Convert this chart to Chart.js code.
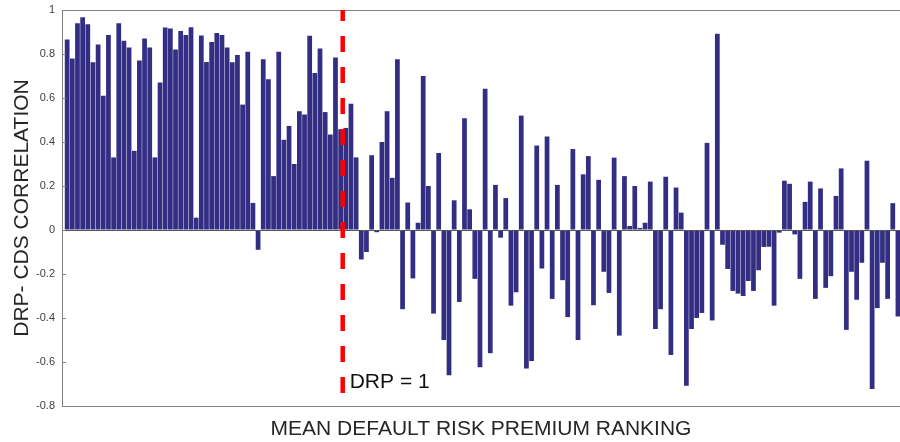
<!DOCTYPE html>
<html>
<head>
<meta charset="utf-8">
<script src="https://cdn.jsdelivr.net/npm/chart.js@4/dist/chart.umd.min.js"></script>
<style>
    html, body { margin: 0; padding: 0; background: #fff; }
    #chartCorr { display: block; }
</style>
</head>
<body>
<canvas id="chartCorr" width="900" height="442"></canvas>
<script>
// DRP-CDS correlation per firm, sorted by mean default risk premium ranking (1..162)
const correlations = [
    0.866, 0.78, 0.94, 0.967, 0.935, 0.763, 0.843, 0.61, 0.886, 0.33,
    0.94, 0.86, 0.83, 0.36, 0.77, 0.87, 0.83, 0.33, 0.67, 0.92,
    0.916, 0.82, 0.904, 0.886, 0.922, 0.056, 0.884, 0.764, 0.854, 0.896,
    0.886, 0.83, 0.763, 0.795, 0.57, 0.81, 0.123, -0.09, 0.776, 0.685,
    0.245, 0.81, 0.41, 0.473, 0.30, 0.54, 0.525, 0.883, 0.714, 0.825,
    0.536, 0.434, 0.784, 0.458, 0.464, 0.574, 0.33, -0.134, -0.10, 0.34,
    -0.01, 0.40, 0.54, 0.237, 0.776, -0.36, 0.125, -0.22, 0.033, 0.70,
    0.20, -0.38, 0.35, -0.50, -0.66, 0.135, -0.327, 0.508, 0.094, -0.222,
    -0.624, 0.642, -0.56, 0.205, -0.035, 0.145, -0.344, -0.283, 0.52, -0.629,
    -0.595, 0.384, -0.175, 0.425, -0.313, 0.205, -0.228, -0.396, 0.368, -0.50,
    0.253, 0.336, -0.342, 0.228, -0.19, -0.286, 0.329, -0.48, 0.245, 0.018,
    0.20, 0.009, 0.033, 0.22, -0.45, -0.36, 0.242, -0.568, 0.193, 0.079,
    -0.708, -0.45, -0.40, -0.377, 0.396, -0.411, 0.892, -0.067, -0.177, -0.277,
    -0.289, -0.30, -0.232, -0.277, -0.183, -0.077, -0.076, -0.344, -0.012, 0.224,
    0.21, -0.02, -0.222, 0.128, 0.22, -0.313, 0.189, -0.263, -0.21, 0.155,
    0.28, -0.454, -0.19, -0.317, -0.149, 0.315, -0.723, -0.355, -0.149, -0.313,
    0.122, -0.393
];
const ranks = correlations.map((v, i) => i + 1);
const yTicks = [1, 0.8, 0.6, 0.4, 0.2, 0, -0.2, -0.4, -0.6, -0.8];

// where the mean DRP crosses 1, and where its label sits
const drpRank = 54.4;
const drpLabel = 'DRP = 1';
const drpLabelValue = -0.69;

const fontFamily = '"Liberation Sans", Arial, Helvetica, sans-serif';

const framePlugin = {
    id: 'frame',
    afterDatasetsDraw(chart) {
        const {ctx, chartArea: a, scales: {x, y}} = chart;
        ctx.save();

        // zero baseline
        const y0 = Math.round(y.getPixelForValue(0)) + 0.5;
        ctx.strokeStyle = '#555';
        ctx.lineWidth = 1;
        ctx.beginPath();
        ctx.moveTo(a.left, y0);
        ctx.lineTo(a.right, y0);
        ctx.stroke();

        // box (top, left, bottom) and inward ticks
        ctx.strokeStyle = '#808080';
        ctx.beginPath();
        ctx.moveTo(a.right, a.top + 0.5);
        ctx.lineTo(a.left + 0.5, a.top + 0.5);
        ctx.lineTo(a.left + 0.5, a.bottom + 0.5);
        ctx.lineTo(a.right, a.bottom + 0.5);
        yTicks.forEach(t => {
            const py = Math.round(y.getPixelForValue(t)) + 0.5;
            ctx.moveTo(a.left, py);
            ctx.lineTo(a.left + 4, py);
        });
        ctx.stroke();

        // DRP = 1 marker
        const px = x.getPixelForValue(drpRank);
        ctx.strokeStyle = '#ff0000';
        ctx.lineWidth = 4.5;
        ctx.setLineDash([16, 15]);
        ctx.lineDashOffset = 5;
        ctx.beginPath();
        ctx.moveTo(px, a.top);
        ctx.lineTo(px, a.bottom);
        ctx.stroke();
        ctx.setLineDash([]);

        ctx.fillStyle = '#111';
        ctx.font = '21px ' + fontFamily;
        ctx.textAlign = 'left';
        ctx.textBaseline = 'middle';
        ctx.fillText(drpLabel, px + 7, y.getPixelForValue(drpLabelValue));
        ctx.restore();
    }
};

const chartConfig = {
    type: 'bar',
    data: {
        datasets: [{
            label: 'DRP- CDS correlation',
            data: ranks.map((r, i) => ({x: r, y: correlations[i]})),
            backgroundColor: '#332e83',
            borderWidth: 0,
            barPercentage: 0.92,
            categoryPercentage: 1
        }]
    },
    options: {
        responsive: false,
        animation: false,
        devicePixelRatio: 1,
        layout: { padding: { top: 0, right: 0, left: 0, bottom: 0 } },
        plugins: {
            legend: { display: false },
            tooltip: { enabled: false }
        },
        scales: {
            x: {
                type: 'linear',
                offset: false,
                min: 0,
                max: 162.4,
                ticks: { display: false },
                grid: { display: false },
                border: { display: false },
                title: {
                    display: true,
                    text: 'MEAN DEFAULT RISK PREMIUM RANKING',
                    color: '#262626',
                    font: { family: fontFamily, size: 21 },
                    padding: { top: 0, bottom: 0 }
                },
                afterFit: scale => { scale.height = 36; }
            },
            y: {
                min: -0.8,
                max: 1,
                afterBuildTicks: scale => {
                    scale.ticks = yTicks.map(v => ({value: v}));
                },
                ticks: {
                    color: '#404040',
                    padding: 7,
                    font: { family: fontFamily, size: 11 },
                    callback: v => String(Math.round(v * 10) / 10)
                },
                grid: { drawOnChartArea: false, drawTicks: false },
                border: { display: false },
                title: {
                    display: true,
                    text: 'DRP- CDS CORRELATION',
                    color: '#262626',
                    font: { family: fontFamily, size: 21 },
                    padding: { top: 10, bottom: 0 }
                },
                afterFit: scale => {
                    scale.width = 62;
                    scale.paddingTop = 10;
                    scale.paddingBottom = 0;
                }
            }
        }
    },
    plugins: [framePlugin]
};

const chartCorr = new Chart(document.getElementById('chartCorr'), chartConfig);
</script>
</body>
</html>
